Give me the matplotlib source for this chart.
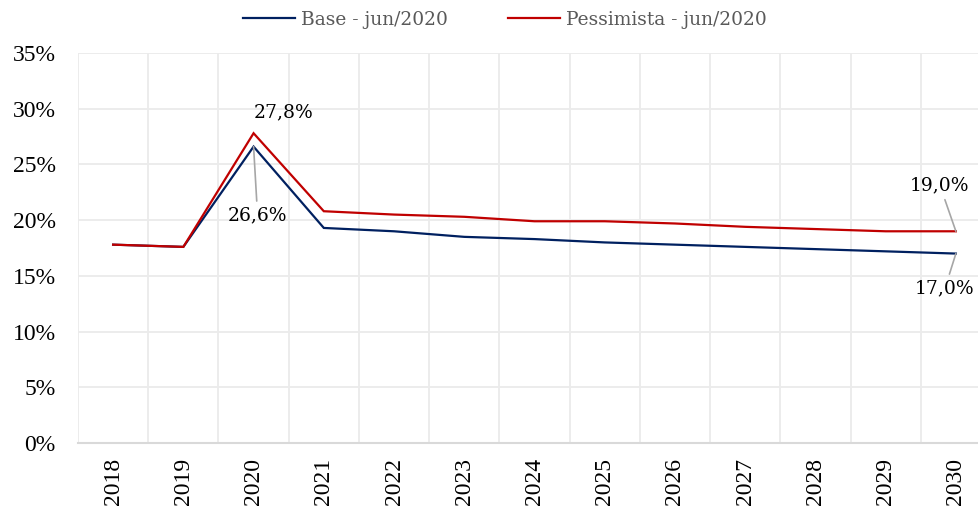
import matplotlib
matplotlib.use("Agg")
import matplotlib.pyplot as plt
from matplotlib.ticker import FixedLocator, PercentFormatter

years = ["2018", "2019", "2020", "2021", "2022", "2023", "2024",
         "2025", "2026", "2027", "2028", "2029", "2030"]
base = [17.8, 17.6, 26.6, 19.3, 19.0, 18.5, 18.3, 18.0, 17.8, 17.6, 17.4, 17.2, 17.0]
pess = [17.8, 17.6, 27.8, 20.8, 20.5, 20.3, 19.9, 19.9, 19.7, 19.4, 19.2, 19.0, 19.0]
series_names = ["Base - jun/2020", "Pessimista - jun/2020"]
yticks = [0, 5, 10, 15, 20, 25, 30, 35]

BLUE = "#002060"
RED = "#C00000"
GRID = "#EBEBEB"

fig = plt.figure(figsize=(9.79, 5.12), dpi=100)
ax = fig.add_axes([78/979, 69/512, 913/979, 390/512])

x = list(range(len(years)))
l1, = ax.plot(x, base, color=BLUE, lw=1.6, label=series_names[0], solid_joinstyle="miter")
l2, = ax.plot(x, pess, color=RED, lw=1.6, label=series_names[1], solid_joinstyle="miter")

ax.set_xlim(-0.5, len(years) - 0.5)
ax.set_ylim(0, 35)
ax.set_yticks(yticks)
ax.yaxis.set_major_formatter(PercentFormatter(decimals=0))
ax.set_xticks(x)
ax.set_xticklabels(years, rotation=90, va="top", ha="center")
ax.xaxis.set_minor_locator(FixedLocator([i - 0.5 for i in range(len(years) + 1)]))

ax.grid(True, axis="y", which="major", color=GRID, lw=1.3)
ax.grid(True, axis="x", which="minor", color=GRID, lw=1.3)
ax.set_axisbelow(True)
for s in ["top", "right", "left"]:
    ax.spines[s].set_visible(False)
ax.spines["bottom"].set_color("#D9D9D9")
ax.spines["bottom"].set_linewidth(1.5)

ax.tick_params(axis="both", which="both", length=0)
ax.tick_params(axis="y", pad=16, labelsize=17, labelcolor="#000000")
ax.tick_params(axis="x", pad=11, labelsize=17, labelcolor="#000000")
for lab in ax.get_xticklabels() + ax.get_yticklabels():
    lab.set_fontfamily("Liberation Serif")

lblfont = dict(family="DejaVu Serif", size=13.5, color="#000000")
lead = dict(arrowstyle="-", color="#A6A6A6", lw=1.2, shrinkA=2, shrinkB=0)

def label(i, vals, dx, dy):
    ax.annotate(f"{vals[i]:.1f}%".replace(".", ","), xy=(i, vals[i]),
                xytext=(dx, dy), textcoords="offset pixels",
                ha="center", va="center", arrowprops=lead, **lblfont)

ax.annotate(f"{pess[2]:.1f}%".replace(".", ","), xy=(2, pess[2]),
            xytext=(30, 21), textcoords="offset pixels",
            ha="center", va="center", **lblfont)
label(2, base, 4, -69)
label(12, pess, -16, 46)
label(12, base, -11, -35)

leg = fig.legend(handles=[l1, l2], loc="center", bbox_to_anchor=(505/979, 1 - 20/512),
                 ncol=2, frameon=False, handlelength=2.8, columnspacing=3.2,
                 handletextpad=0.35,
                 prop=dict(family="DejaVu Serif", size=13.4))
for t in leg.get_texts():
    t.set_color("#595959")

fig.savefig("out.png", dpi=100)
